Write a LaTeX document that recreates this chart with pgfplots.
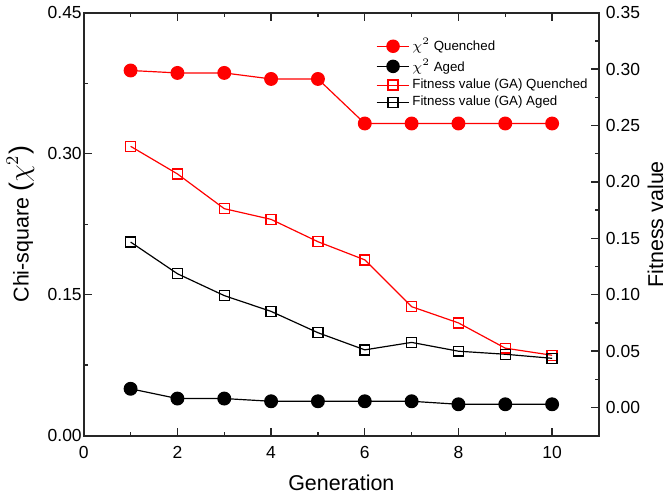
\documentclass[border=0pt]{standalone}
\usepackage{pgfplots}
\pgfplotsset{compat=1.18}
\usepackage{fontspec}
\setmainfont{Liberation Sans}

\pgfplotsset{
  common/.style={
    scale only axis,
    width=259.5pt, height=213pt,
    xmin=0, xmax=11,
    tick align=inside,
    major tick length=4pt,
    minor tick length=2pt,
    axis line style={line width=0.9pt, black!85},
    every tick/.style={line width=0.7pt, black!85},
    tick label style={font=\fontsize{8.8}{10.5}\selectfont},
    label style={font=\fontsize{10.8}{13}\selectfont},
    /pgf/number format/assume math mode=true,
  },
  legimg/.style={legend image code/.code={
    \draw[mark repeat=2,mark phase=2] plot coordinates {(0cm,0cm) (0.29cm,0cm) (0.58cm,0cm)};}},
}

\begin{document}
\begin{tikzpicture}
% left axis: chi-square
\begin{axis}[common,
  ymin=0, ymax=0.45,
  ytick={0,0.15,0.30,0.45},
  minor y tick num=1,
  xtick={0,2,4,6,8,10},
  minor x tick num=1,
  xtick pos=both,
  ytick pos=left,
  yticklabel style={xshift=2.5pt, /pgf/number format/.cd, fixed, fixed zerofill, precision=2},
  xticklabel style={yshift=-2pt},
  xlabel={Generation},
  ylabel={Chi-square {\fontsize{13.5}{15}\selectfont($\chi^2$)}},
  xlabel style={yshift=-1pt},
]
\addplot[red, line width=0.6pt, mark=*, mark size=3.2pt] coordinates {
 (1,0.3886) (2,0.386) (3,0.386) (4,0.3796) (5,0.3796)
 (6,0.3322) (7,0.3322) (8,0.3322) (9,0.3322) (10,0.3322)};
\addplot[black, line width=0.6pt, mark=*, mark size=3.2pt] coordinates {
 (1,0.0499) (2,0.0395) (3,0.0395) (4,0.0366) (5,0.0366)
 (6,0.0366) (7,0.0366) (8,0.0334) (9,0.0334) (10,0.0334)};
\end{axis}
% right axis: fitness value
\begin{axis}[common,
  hide x axis,
  ymin=-0.025, ymax=0.35,
  ytick={0,0.05,...,0.35},
  minor y tick num=1,
  ytick pos=right,
  yticklabel pos=right,
  yticklabel style={/pgf/number format/.cd, fixed, fixed zerofill, precision=2},
  ylabel={Fitness value},
  ylabel shift=-3pt,
  legend style={at={(0.995,0.955)}, anchor=north east, draw=none, fill=none,
    font=\fontsize{6.7}{8}\selectfont, row sep=0pt,
    nodes={inner sep=1.2pt}},
  legend cell align=left,
]
\addlegendimage{red, line width=0.6pt, mark=*, mark size=3.1pt, legimg}
\addlegendentry{$\chi^2$ Quenched}
\addlegendimage{black, line width=0.6pt, mark=*, mark size=3.1pt, legimg}
\addlegendentry{$\chi^2$ Aged}
\addplot[red, line width=0.6pt, mark=square, mark size=2.5pt, mark options={line width=0.7pt}, legimg] coordinates {
 (1,0.2316) (2,0.2071) (3,0.1763) (4,0.1668) (5,0.1470)
 (6,0.1309) (7,0.0894) (8,0.0750) (9,0.0526) (10,0.0463)};
\addlegendentry{Fitness value (GA) Quenched}
\addplot[black, line width=0.6pt, mark=square, mark size=2.5pt, mark options={line width=0.7pt}, legimg] coordinates {
 (1,0.1467) (2,0.1186) (3,0.0992) (4,0.0852) (5,0.0663)
 (6,0.0511) (7,0.0577) (8,0.0499) (9,0.0472) (10,0.0436)};
\addlegendentry{Fitness value (GA) Aged}
\end{axis}
\path ([yshift=6pt]current axis.north);
\end{tikzpicture}
\end{document}
